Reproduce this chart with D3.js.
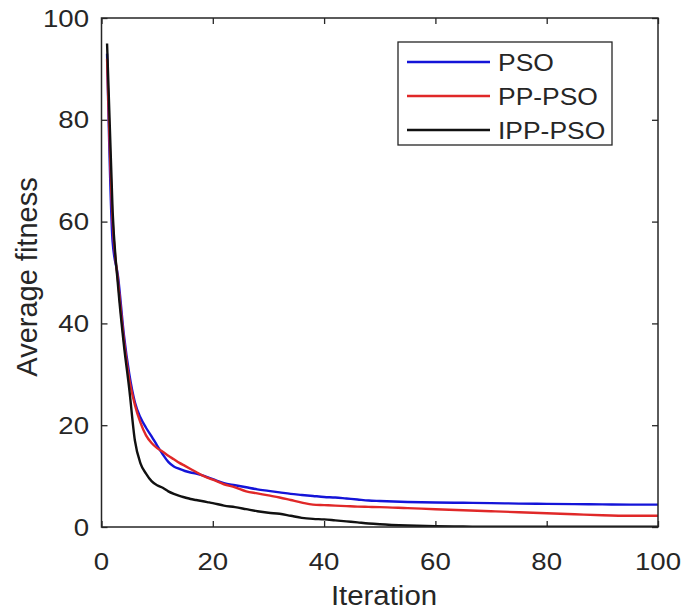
<!DOCTYPE html>
<html><head><meta charset="utf-8">
<script src="https://cdn.jsdelivr.net/npm/d3@7"></script>
<style>body{margin:0;background:#fff}text{font-family:"Liberation Sans",Arial,sans-serif;fill:#262626}</style>
</head><body><svg id="c" width="686" height="613"></svg>
<script>
const iterations = [1,2,3,4,5,6,7,8,9,10,11,12,13,14,15,16,17,18,19,20,22,24,26,28,30,32,34,36,38,40,42,44,46,48,50,55,60,65,70,75,80,85,90,95,100];
const pso    = [93,56,49,38,30,24.5,21.5,19.5,17.8,16,14.3,12.8,11.9,11.4,11,10.7,10.5,10.2,9.8,9.4,8.6,8.2,7.8,7.4,7.1,6.8,6.5,6.3,6.1,5.9,5.8,5.6,5.4,5.2,5.1,4.9,4.8,4.75,4.7,4.6,4.55,4.5,4.45,4.4,4.4];
const ppPso  = [92,60,48,37,29,24,20.5,18,16.5,15.5,14.8,14,13.3,12.6,12,11.4,10.8,10.2,9.7,9.3,8.4,7.8,7.0,6.6,6.2,5.8,5.3,4.8,4.4,4.3,4.2,4.1,4.0,3.95,3.9,3.7,3.5,3.3,3.1,2.9,2.7,2.5,2.3,2.2,2.2];
const ippPso = [95,62,47,36,27,17,12.5,10.5,9,8.2,7.7,7.0,6.5,6.1,5.8,5.5,5.3,5.1,4.9,4.7,4.2,3.9,3.5,3.1,2.8,2.6,2.2,1.8,1.6,1.5,1.3,1.1,0.9,0.7,0.55,0.3,0.15,0.1,0.05,0.05,0.05,0.05,0.05,0.05,0.05];
const seriesNames = ["PSO","PP-PSO","IPP-PSO"];
const seriesColors = ["#1414d8","#e02828","#111111"];
const xTicks = [0,20,40,60,80,100];
const yTicks = [0,20,40,60,80,100];

const svg = d3.select("#c");
const L=101.5, R=658, T=18, B=527;
const x = d3.scaleLinear().domain([0,100]).range([L,R]);
const y = d3.scaleLinear().domain([0,100]).range([B,T]);
const axisColor = "#262626";

function styleAxis(g){
  g.select(".domain").remove();
  g.selectAll(".tick line").attr("stroke",axisColor).attr("stroke-width",1.3);
  g.selectAll(".tick text").remove();
}
svg.append("g").attr("transform",`translate(0,${B})`).call(d3.axisBottom(x).tickValues(xTicks).tickSize(-6)).call(styleAxis);
svg.append("g").attr("transform",`translate(0,${T})`).call(d3.axisTop(x).tickValues(xTicks).tickSize(-6)).call(styleAxis);
svg.append("g").attr("transform",`translate(${L},0)`).call(d3.axisLeft(y).tickValues(yTicks).tickSize(-6)).call(styleAxis);
svg.append("g").attr("transform",`translate(${R},0)`).call(d3.axisRight(y).tickValues(yTicks).tickSize(-6)).call(styleAxis);

const series = [pso, ppPso, ippPso];
const line = d3.line().x((d,i)=>x(iterations[i])).y(d=>y(d)).curve(d3.curveMonotoneX);
svg.append("clipPath").attr("id","cp").append("rect").attr("x",L).attr("y",T).attr("width",R-L).attr("height",B-T);
series.forEach((s,k)=>{
  svg.append("path").datum(s).attr("d",line).attr("fill","none")
    .attr("stroke",seriesColors[k]).attr("stroke-width",2.4).attr("stroke-linejoin","round").attr("clip-path","url(#cp)");
});

svg.append("rect").attr("x",L).attr("y",T).attr("width",R-L).attr("height",B-T)
  .attr("fill","none").attr("stroke",axisColor).attr("stroke-width",1.5);

const SX = 1.15;
function label(txt,px,py,anchor,size){
  svg.append("g").attr("transform",`translate(${px},${py}) scale(${SX},1)`)
    .append("text").attr("text-anchor",anchor).attr("font-size",size).text(txt);
}
xTicks.forEach(v=>label(v,x(v),570,"middle",24));
yTicks.forEach(v=>label(v,89,y(v)+8.5,"end",24));

svg.append("g").attr("transform",`translate(384,605) scale(1.05,1)`)
  .append("text").attr("text-anchor","middle").attr("font-size",28).text("Iteration");
svg.append("g").attr("transform",`translate(37,277) rotate(-90)`)
  .append("text").attr("text-anchor","middle").attr("font-size",29).text("Average fitness");

// legend
const lg = svg.append("g");
lg.append("rect").attr("x",398).attr("y",42).attr("width",214).attr("height",103)
  .attr("fill","#fff").attr("stroke",axisColor).attr("stroke-width",1.3);
const ly = [62,96,130];
seriesNames.forEach((n,k)=>{
  lg.append("line").attr("x1",407).attr("x2",490).attr("y1",ly[k]).attr("y2",ly[k])
    .attr("stroke",seriesColors[k]).attr("stroke-width",2.4);
  lg.append("g").attr("transform",`translate(498,${ly[k]+8.5}) scale(${SX},1)`)
    .append("text").attr("font-size",23).text(n);
});
</script></body></html>
